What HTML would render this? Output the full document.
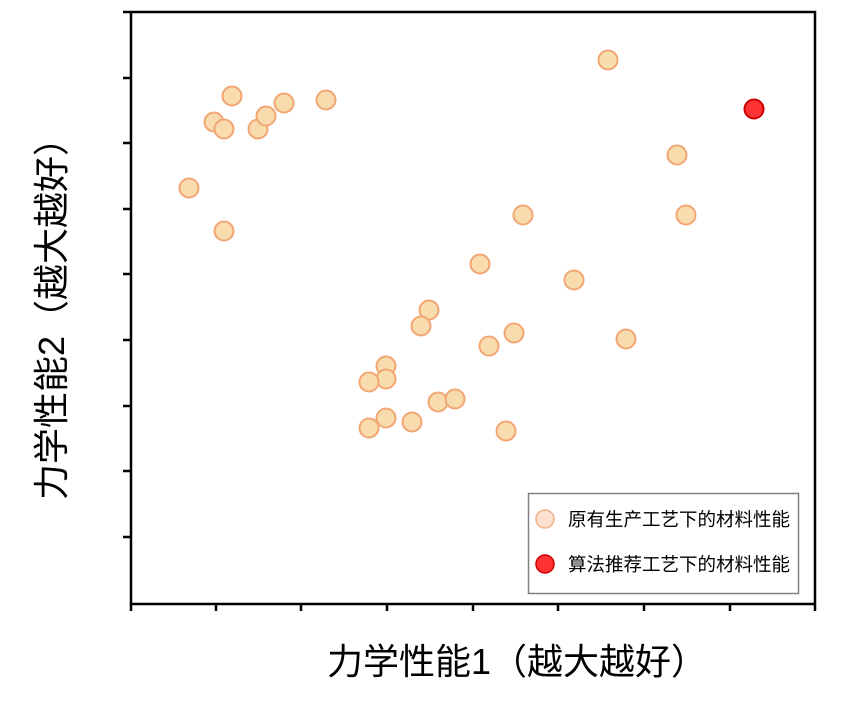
<!DOCTYPE html>
<html><head><meta charset="utf-8"><style>
body{margin:0;background:#fff;}
</style></head><body>
<svg width="851" height="703" xmlns="http://www.w3.org/2000/svg" style="display:block">
<g stroke="#000" stroke-width="2.5" fill="none">
<path d="M123 12H815V604M131 12V604H815"/>
<path d="M123 78H131M123 143H131M123 209H131M123 274H131M123 340H131M123 406H131M123 471H131M123 537H131"/>
<path d="M131 604V611M216 604V611M301 604V611M387 604V611M473 604V611M558 604V611M644 604V611M730 604V611M815 604V611"/>
</g>
<g fill="#f8dcae" stroke="#f2a673" stroke-width="2">
<circle cx="608" cy="60" r="9.5"/><circle cx="232" cy="96" r="9.5"/><circle cx="214" cy="122" r="9.5"/><circle cx="224" cy="129" r="9.5"/><circle cx="258" cy="129" r="9.5"/><circle cx="266" cy="116" r="9.5"/><circle cx="284" cy="103" r="9.5"/><circle cx="326" cy="100" r="9.5"/><circle cx="189" cy="188" r="9.5"/><circle cx="224" cy="231" r="9.5"/><circle cx="677" cy="155" r="9.5"/><circle cx="686" cy="215" r="9.5"/><circle cx="523" cy="215" r="9.5"/><circle cx="480" cy="264" r="9.5"/><circle cx="574" cy="280" r="9.5"/><circle cx="429" cy="310" r="9.5"/><circle cx="421" cy="326" r="9.5"/><circle cx="514" cy="333" r="9.5"/><circle cx="489" cy="346" r="9.5"/><circle cx="626" cy="339" r="9.5"/><circle cx="386" cy="366" r="9.5"/><circle cx="386" cy="379" r="9.5"/><circle cx="369" cy="382" r="9.5"/><circle cx="438" cy="402" r="9.5"/><circle cx="455" cy="399" r="9.5"/><circle cx="369" cy="428" r="9.5"/><circle cx="386" cy="418" r="9.5"/><circle cx="412" cy="422" r="9.5"/><circle cx="506" cy="431" r="9.5"/>
</g>
<circle cx="754" cy="109" r="9.5" fill="#f33" stroke="#c00" stroke-width="2"/>
<rect x="528.5" y="493.5" width="270" height="100" fill="#fff" stroke="#808080" stroke-width="1.5"/>
<circle cx="545" cy="519" r="9" fill="#fce1d2" stroke="#f2b088" stroke-width="1.5"/>
<circle cx="545" cy="564" r="9" fill="#f33" stroke="#c00" stroke-width="1.5"/>
<g font-family="'Liberation Sans','Noto Sans CJK SC',sans-serif" fill="#000">
<text x="568" y="526" font-size="18.5">原有生产工艺下的材料性能</text>
<text x="568" y="571" font-size="18.5">算法推荐工艺下的材料性能</text>
<text x="517" y="674" font-size="36" text-anchor="middle">力学性能1（越大越好）</text>
<text transform="translate(64,310) rotate(-90)" font-size="36" text-anchor="middle">力学性能2（越大越好）</text>
</g>
</svg>
</body></html>
